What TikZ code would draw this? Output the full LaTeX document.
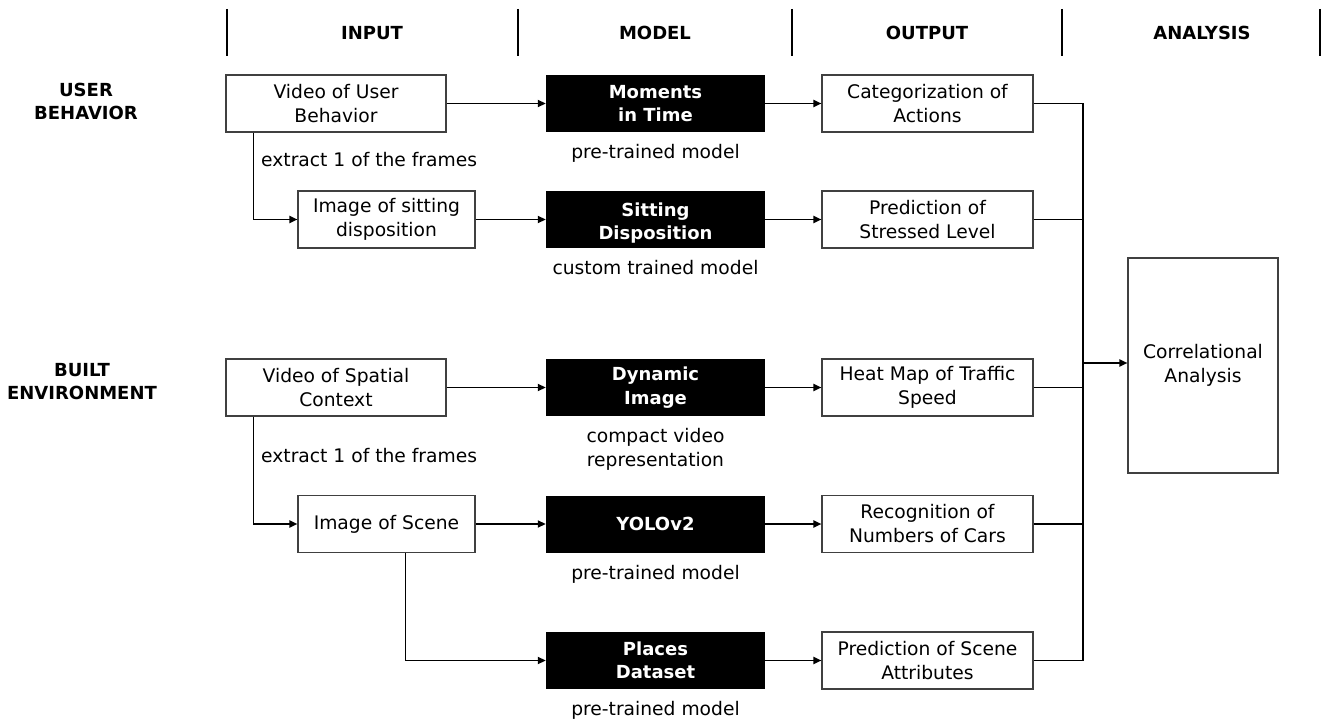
\documentclass[tikz,border=0pt]{standalone}
\usepackage{fontspec}
\setmainfont{DejaVu Sans}
\usetikzlibrary{arrows.meta,positioning}
\tikzset{
  txt/.style={font=\fontsize{18.7}{24}\selectfont, align=center, inner sep=0pt},
  hdr/.style={font=\bfseries\fontsize{18}{23}\selectfont, align=center, inner sep=0pt},
  wbox/.style={txt, draw=black!75, line width=1.1pt, fill=white, minimum height=57pt},
  btxt/.style={font=\bfseries\fontsize{18}{23.5}\selectfont},
  bbox/.style={txt, btxt, fill=black, text=white, minimum width=219pt, minimum height=57pt},
  obox/.style={wbox, minimum width=211pt},
  conn/.style={line width=1.8pt, -{Triangle[length=8pt,width=7pt]}},
  wire/.style={line width=1.8pt},
  bar/.style={line width=2.8pt},
  note/.style={txt}
}
\begin{document}
\begin{tikzpicture}[x=1pt,y=-1pt]
\useasboundingbox (0,0) rectangle (1325,719);
% header bars
\foreach \x in {227,518,792,1062,1320} \draw[bar] (\x,9) -- (\x,56);
\node[hdr] (hin) at (372,33) {INPUT};
\node[hdr] (hmo) at (655,33) {MODEL};
\node[hdr] (hou) at (927,33) {OUTPUT};
\node[hdr] (han) at (1202,33) {ANALYSIS};
\node[hdr] (rub) at (86,101) {USER\\BEHAVIOR};
\node[hdr] (rbe) at (82,382) {BUILT\\ENVIRONMENT};
% inputs
\node[wbox, minimum width=220pt] (vub) at (336,103.5) {Video of User\\Behavior};
\node[wbox, minimum width=177pt] (isd) at (386.5,219.5) {Image of sitting\\disposition};
\node[wbox, minimum width=220pt] (vsc) at (336,387.5) {Video of Spatial\\Context};
\node[wbox, minimum width=177pt] (ios) at (386.5,524) {Image of Scene};
% models
\node[bbox] (mit) at (655.5,103.5) {Moments\\in Time};
\node[bbox] (sdd) at (655.5,219.5) {};
\begin{scope}
\clip (sdd.north west) rectangle (sdd.south east);
\node[txt, btxt, text=white] (sddt) at ([yshift=-13.5pt]sdd.center) {Sitting\\Disposition\\Dataset};
\end{scope}
\node[bbox] (dyn) at (655.5,387.5) {Dynamic\\Image};
\node[bbox] (yolo) at (655.5,524) {YOLOv2};
\node[bbox] (pla) at (655.5,660.5) {Places\\Dataset};
% model notes
\node[note, anchor=north] (n1) at ([yshift=-12pt]mit.south) {pre-trained model};
\node[note, anchor=north] (n2) at ([yshift=-12pt]sdd.south) {custom trained model};
\node[note, anchor=north] (n3) at ([yshift=-12pt]dyn.south) {compact video\\representation};
\node[note, anchor=north] (n4) at ([yshift=-12pt]yolo.south) {pre-trained model};
\node[note, anchor=north] (n5) at ([yshift=-12pt]pla.south) {pre-trained model};
% outputs
\node[obox] (coa) at (927.5,103.5) {Categorization of\\Actions};
\node[obox] (psl) at (927.5,219.5) {Prediction of\\Stressed Level};
\node[obox] (hmt) at (927.5,387.5) {Heat Map of Traffic\\Speed};
\node[obox] (rnc) at (927.5,524) {Recognition of\\Numbers of Cars};
\node[obox] (psa) at (927.5,660.5) {Prediction of Scene\\Attributes};
% analysis
\node[wbox, minimum width=150pt, minimum height=215pt] (cor) at (1203,365.5) {Correlational\\Analysis};
% connectors
\draw[conn] (vub) -- (mit);
\draw[conn] (isd) -- (sdd);
\draw[conn] (vsc) -- (dyn);
\draw[conn] (ios) -- (yolo);
\draw[conn] (mit) -- (coa);
\draw[conn] (sdd) -- (psl);
\draw[conn] (dyn) -- (hmt);
\draw[conn] (yolo) -- (rnc);
\draw[conn] (pla) -- (psa);
\draw[conn] (vub.south west) ++(28,0) |- (isd.west);
\draw[conn] (vsc.south west) ++(28,0) |- (ios.west);
\draw[conn] (ios.south west) ++(108,0) |- (pla.west);
\node[note, anchor=west] (ex1) at (261,160) {extract 1 of the frames};
\node[note, anchor=west] (ex2) at (261,456) {extract 1 of the frames};
% bus
\coordinate (bt) at (1083,103.5);
\coordinate (bb) at (1083,660.5);
\coordinate (bm) at (1083,363);
\draw[wire] (coa.east) -- (bt) -- (bb) -- (psa.east);
\draw[wire] (psl.east) -- (psl.east -| bt);
\draw[wire] (hmt.east) -- (hmt.east -| bt);
\draw[wire] (rnc.east) -- (rnc.east -| bt);
\draw[conn] (bm) -- (bm -| cor.west);
\end{tikzpicture}
\end{document}
